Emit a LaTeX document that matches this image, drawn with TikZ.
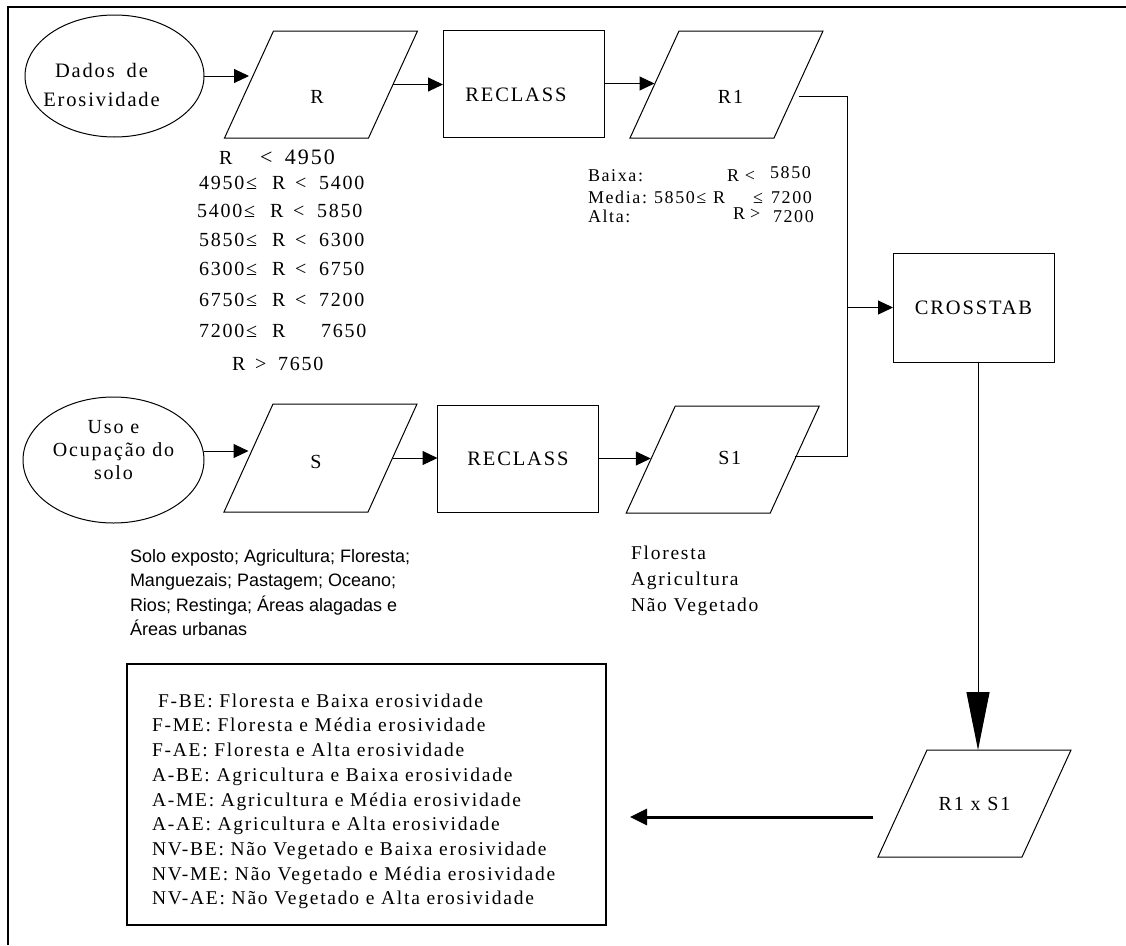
\documentclass[tikz,border=0pt]{standalone}
\usepackage{fontspec}
\setmainfont{Liberation Serif}[LetterSpace=9]
\newfontfamily\arialf{Liberation Sans}
\usetikzlibrary{shapes.geometric,arrows.meta}
\begin{document}
\begin{tikzpicture}[x=1pt,y=-1pt,
  every node/.style={inner sep=0pt,outer sep=0pt},
  lbl/.style={font=\fontsize{20}{24}\selectfont},
  para/.style={minimum width=144pt,minimum height=107pt,font=\fontsize{20}{24}\selectfont,
    append after command={\pgfextra{\draw[line width=1pt]
      ([xshift=24.5pt]\tikzlastnode.north west) -- ([xshift=24.5pt]\tikzlastnode.north east) --
      ([xshift=-24.5pt]\tikzlastnode.south east) -- ([xshift=-24.5pt]\tikzlastnode.south west) -- cycle;}}},
  procbox/.style={draw,line width=1pt,minimum width=161pt,minimum height=107pt,font=\fontsize{20.5}{24}\selectfont},
  oval/.style={draw,line width=1pt,ellipse},
  conn/.style={line width=1pt},
  arr/.style={conn,-{Triangle[length=15pt,width=14pt]}},
  txt/.style={font=\fontsize{20}{24}\selectfont,anchor=base west},
  bigtxt/.style={font=\fontsize{22}{26}\selectfont,anchor=base west},
  smtxt/.style={font=\fontsize{18}{22}\selectfont,anchor=base west}]
\useasboundingbox (0,0) rectangle (1126,945);
% outer frame
\draw[line width=2pt] (8,945) -- (8,7) -- (1126,7);

% upper row
\node[oval,minimum width=179pt,minimum height=122pt,
  label={[font=\fontsize{20.5}{28.5}\selectfont,align=center,xshift=-13pt,yshift=-9pt]center:Dados\hspace{5pt} de\\Erosividade}] (E) at (114.5,76) {};
\node[para,label={[lbl,xshift=-4pt,yshift=-12pt]center:R}] (R) at (321,84.5) {};
\node[procbox,label={[lbl,font=\fontsize{20.5}{24}\selectfont,xshift=-7.5pt,yshift=-11.5pt]center:RECLASS}] (RC1) at (523.5,83.5) {};
\node[para,label={[lbl,xshift=4pt,yshift=-12pt]center:R1}] (R1) at (726.5,84.5) {};
\node[procbox,minimum height=109pt] (CT) at (973.5,307.5) {CROSSTAB};

% lower row
\node[oval,minimum width=181pt,minimum height=126pt,
  label={[font=\fontsize{20}{23}\selectfont,align=center,yshift=10pt]center:Uso e\\Ocupação do\\solo}] (U) at (113.5,460) {};
\node[para,minimum height=108pt,label={[lbl,xshift=-4.5pt,yshift=-4pt]center:S}] (S) at (320.5,458) {};
\node[procbox] (RC2) at (518,458.5) {RECLASS};
\node[para,label={[lbl,xshift=7pt,yshift=2pt]center:S1}] (S1) at (722.75,459.5) {};
\node[para] (RS) at (974.5,803.5) {R1 x S1};

% legend box
\node[draw,line width=1.5pt,minimum width=479pt,minimum height=261pt] (L) at (366.5,794.5) {};

% connectors
\draw[arr] (E.east) -- (E.east -| R.west);
\draw[arr] (R.east) -- (R.east -| RC1.west);
\draw[arr] (RC1.east) -- (RC1.east -| R1.west);
\coordinate (jt) at (847,96);
\coordinate (jb) at (847,456);
\draw[conn] (jt -| R1.east) -- (jt) -- (jb) -- (jb -| S1.east);
\draw[arr] (jt |- CT.west) -- (CT.west);
\draw[arr] ([yshift=9pt]U.east) -- ([yshift=9pt]U.east -| S.west);
\draw[arr] (S.east) -- (S.east -| RC2.west);
\draw[arr] (RC2.east) -- (RC2.east -| S1.west);
\draw[conn,-{Triangle[length=58pt,width=23pt]}] ([xshift=4.5pt]CT.south) -- ([xshift=4.5pt]CT.south |- RS.north);
\coordinate (ay) at (0,817);
\draw[line width=3pt,-{Triangle[length=17pt,width=16pt]},shorten <=30pt,shorten >=24pt] (ay -| RS.west) -- (ay -| L.east);

% R classes
\node[txt] (r1a) at (219,164) {R};
\node[bigtxt] (r1b) at (260,164) {\makebox[25pt][l]{<}4950};
\node[txt] (r2) at (199,189) {\makebox[73pt][l]{4950≤}\makebox[23pt][l]{R}\makebox[24pt][l]{<}5400};
\node[txt] (r3) at (197,217) {\makebox[73pt][l]{5400≤}\makebox[23pt][l]{R}\makebox[24pt][l]{<}5850};
\node[txt] (r4) at (199,246) {\makebox[73pt][l]{5850≤}\makebox[23pt][l]{R}\makebox[24pt][l]{<}6300};
\node[txt] (r5) at (199,275) {\makebox[73pt][l]{6300≤}\makebox[23pt][l]{R}\makebox[24pt][l]{<}6750};
\node[txt] (r6) at (199,306) {\makebox[73pt][l]{6750≤}\makebox[23pt][l]{R}\makebox[24pt][l]{<}7200};
\node[txt] (r7) at (199,337) {\makebox[73pt][l]{7200≤}\makebox[49pt][l]{R}7650};
\node[txt] (r8) at (232,370) {\makebox[23pt][l]{R}\makebox[23pt][l]{>}7650};

% R1 classes
\node[smtxt] (b1) at (588,181) {\makebox[139pt][l]{Baixa:}\makebox[18pt][l]{R}\makebox[25pt][l]{<}\raisebox{3pt}{5850}};
\node[smtxt] (b2) at (588,203) {\makebox[66pt][l]{Media:}\makebox[59pt][l]{5850≤}\makebox[40pt][l]{R}\makebox[18pt][l]{≤}7200};
\node[smtxt] (b3) at (588,222) {\makebox[145pt][l]{Alta:}\makebox[17pt][l]{\raisebox{3pt}{R}}\makebox[23pt][l]{\raisebox{3pt}{>}}7200};

% S classes
\node[anchor=north west,align=left,font=\arialf\fontsize{18}{24.5}\selectfont] (st) at (130,549)
  {Solo exposto; Agricultura; Floresta;\\Manguezais; Pastagem; Oceano;\\Rios; Restinga; Áreas alagadas e\\Áreas urbanas};
\node[anchor=north west,align=left,font=\fontsize{19.5}{26}\selectfont] (s1t) at (631,545.7)
  {Floresta\\Agricultura\\Não Vegetado};

% legend text
\node[anchor=north west,align=left,font=\fontsize{19.5}{24.7}\selectfont] (lt) at (152,693.7)
  {\hspace*{6pt}F-BE: Floresta e Baixa erosividade\\
   F-ME: Floresta e Média erosividade\\
   F-AE: Floresta e Alta erosividade\\
   A-BE: Agricultura e Baixa erosividade\\
   A-ME: Agricultura e Média erosividade\\
   A-AE: Agricultura e Alta erosividade\\
   NV-BE: Não Vegetado e Baixa erosividade\\
   NV-ME: Não Vegetado e Média erosividade\\
   NV-AE: Não Vegetado e Alta erosividade};
\end{tikzpicture}
\end{document}
